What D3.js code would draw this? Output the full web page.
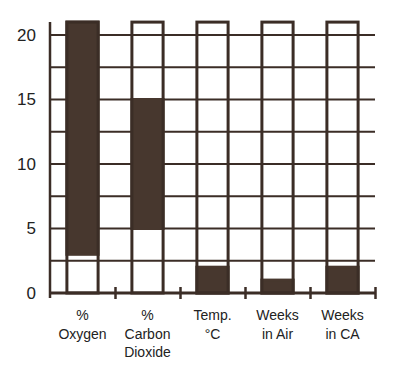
<!DOCTYPE html>
<html>
<head>
<meta charset="utf-8">
<script src="https://cdn.jsdelivr.net/npm/d3@7"></script>
<style>
  body { margin: 0; background: #fff; }
  svg { display: block; font-family: "Liberation Sans", Arial, sans-serif; }
</style>
</head>
<body>
<svg width="400" height="366"></svg>
<script>
// categories (label lines) and the dark range of each bar
const categories = ["oxygen", "co2", "temp", "air", "ca"];
const labelLines = [["%", "Oxygen"], ["%", "Carbon", "Dioxide"], ["Temp.", "°C"], ["Weeks", "in Air"], ["Weeks", "in CA"]];
const lowValues = [3, 5, 0, 0, 0];
const highValues = [21, 15, 2, 1, 2];
const barMax = 21;
const yTicks = [0, 5, 10, 15, 20];
const gridValues = [2.5, 5, 7.5, 10, 12.5, 15, 17.5, 20];

const ink = "#3b2d26";
const fillDark = "#47372e";

var svg = d3.select("svg");

var x = d3.scaleBand().domain(categories).range([50, 375]).paddingInner(0.52).paddingOuter(0.26);
var y = d3.scaleLinear().domain([0, 20]).range([293, 35]);

// horizontal grid
svg.append("g")
  .selectAll("line")
  .data(gridValues)
  .enter()
  .append("line")
  .attr("x1", 50)
  .attr("x2", 375)
  .attr("y1", (d) => y(d))
  .attr("y2", (d) => y(d))
  .attr("stroke", ink)
  .attr("stroke-width", 1.8);

// dark ranges
svg.append("g")
  .selectAll("rect")
  .data(categories)
  .enter()
  .append("rect")
  .attr("x", (d) => x(d))
  .attr("width", x.bandwidth())
  .attr("y", (d, i) => y(highValues[i]))
  .attr("height", (d, i) => y(lowValues[i]) - y(highValues[i]))
  .attr("fill", fillDark)
  .attr("stroke", fillDark)
  .attr("stroke-width", 3);

// bar outlines
svg.append("g")
  .selectAll("rect")
  .data(categories)
  .enter()
  .append("rect")
  .attr("x", (d) => x(d))
  .attr("width", x.bandwidth())
  .attr("y", y(barMax))
  .attr("height", y(0) - y(barMax))
  .attr("fill", "none")
  .attr("stroke", ink)
  .attr("stroke-width", 3);

// y axis
var yAxis = svg.append("g")
  .attr("transform", "translate(50,0)")
  .call(d3.axisLeft(y).tickValues(yTicks).tickSize(0).tickPadding(14));
yAxis.select(".domain").remove();
yAxis.selectAll("text")
  .attr("font-size", 17)
  .attr("fill", "#222")
  .attr("font-family", "Liberation Sans, Arial, sans-serif");

svg.append("line")
  .attr("x1", 50).attr("x2", 50)
  .attr("y1", y(barMax)).attr("y2", y(0) + 5)
  .attr("stroke", ink)
  .attr("stroke-width", 2.5);

// x axis with ticks between categories
svg.append("line")
  .attr("x1", 50).attr("x2", 376)
  .attr("y1", y(0)).attr("y2", y(0))
  .attr("stroke", ink)
  .attr("stroke-width", 3);

svg.append("g")
  .selectAll("line")
  .data(categories)
  .enter()
  .append("line")
  .attr("x1", (d) => x(d) + x.step() * 0.5 + x.bandwidth() / 2 + 0.5)
  .attr("x2", (d) => x(d) + x.step() * 0.5 + x.bandwidth() / 2 + 0.5)
  .attr("y1", y(0) - 6)
  .attr("y2", y(0) + 6)
  .attr("stroke", ink)
  .attr("stroke-width", 2.5);

// category labels
var labels = svg.append("g")
  .selectAll("text")
  .data(categories)
  .enter()
  .append("text")
  .attr("x", (d) => x(d) + x.bandwidth() / 2)
  .attr("y", 320)
  .attr("text-anchor", "middle")
  .attr("font-size", 14)
  .attr("fill", "#222");

labels.selectAll("tspan")
  .data((d, i) => labelLines[i])
  .enter()
  .append("tspan")
  .attr("x", function () { return this.parentNode.getAttribute("x"); })
  .attr("dy", (d, i) => (i === 0 ? 0 : 18.5))
  .text((d) => d);
</script>
</body>
</html>
